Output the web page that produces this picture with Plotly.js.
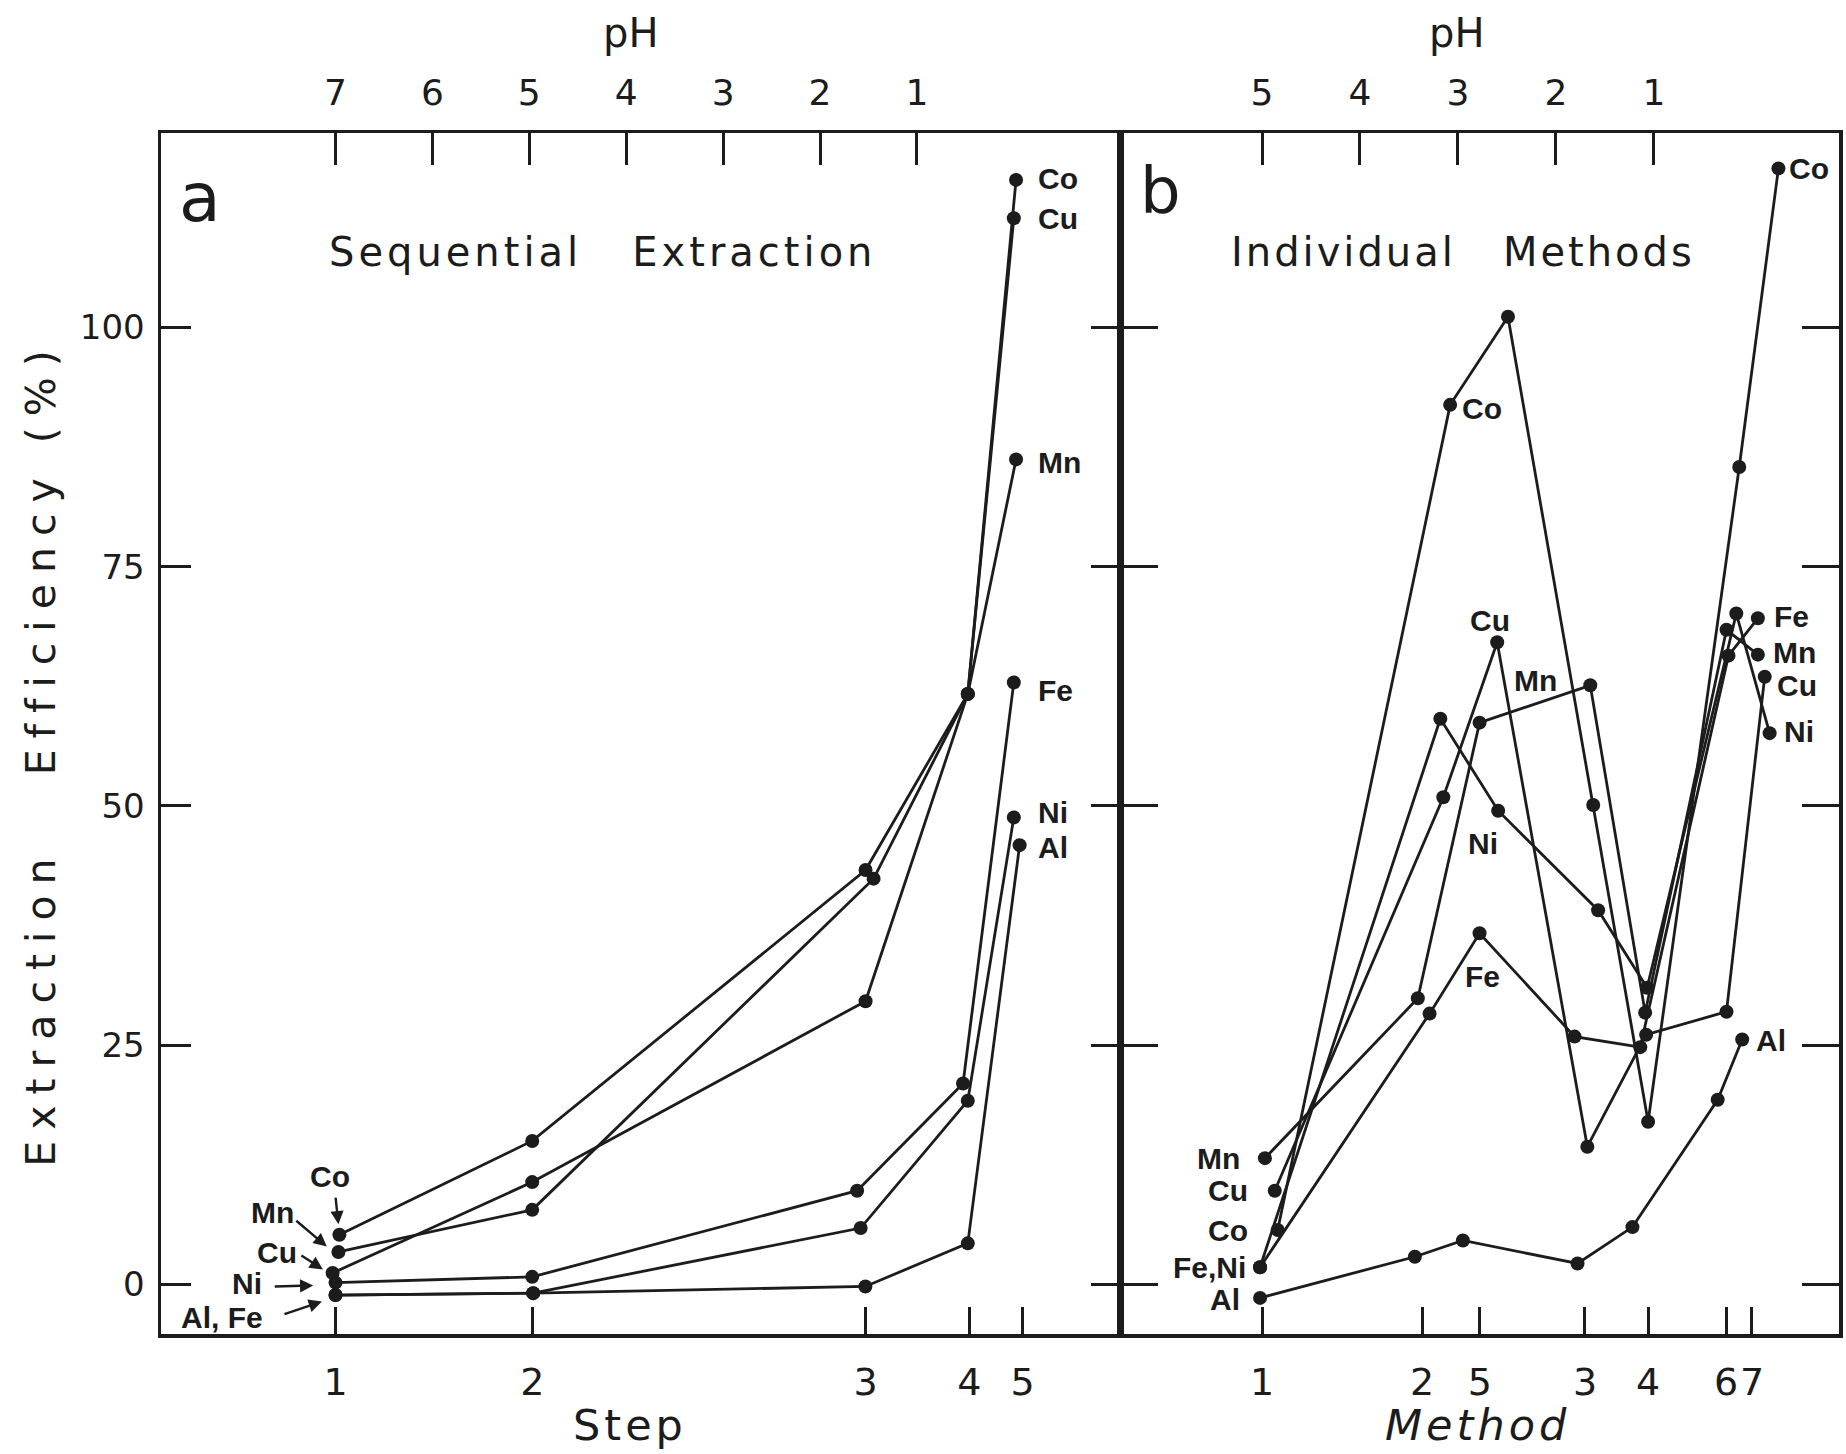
<!DOCTYPE html>
<html>
<head>
<meta charset="utf-8">
<script src="https://cdn.plot.ly/plotly-3.0.1.min.js"></script>
<style>
html,body{margin:0;padding:0;background:#fff;}
#chart{width:1846px;height:1454px;}
.annotation[data-index="2"] .annotation-text{letter-spacing:4px;}
.annotation[data-index="3"] .annotation-text{letter-spacing:4px;}
.annotation[data-index="4"] .annotation-text{letter-spacing:11px;}
.annotation[data-index="7"] .annotation-text{letter-spacing:4px;}
.annotation[data-index="8"] .annotation-text{letter-spacing:3px;}
</style>
</head>
<body>
<div id="chart"></div>
<script>
// ---------- tick definitions ----------
const pHTicksA = [7, 6, 5, 4, 3, 2, 1];
const stepTickPH = [7.0, 4.97, 1.53, 0.46, -0.09];   // position of each step on the pH scale
const stepTickText = ['1', '2', '3', '4', '5'];
const pHTicksB = [5, 4, 3, 2, 1];
const methodTickPH = [5.0, 3.367, 2.776, 1.704, 1.061, 0.265, 0.0];
const methodTickText = ['1', '2', '5', '3', '4', '6', '7'];
const effTicks = [0, 25, 50, 75, 100];

// ---------- panel a : Sequential Extraction (x = pH position of step) ----------
const aCoX = [6.96, 4.97, 1.53, 0.475, -0.023];
const aCoY = [5.2, 15.0, 43.3, 61.7, 115.4];
const aCuX = [7.03, 4.97, 1.53, 0.475, 0.0];
const aCuY = [1.2, 10.7, 29.6, 61.7, 111.4];
const aMnX = [6.97, 4.97, 1.447, 0.475, -0.023];
const aMnY = [3.4, 7.8, 42.4, 61.7, 86.2];
const aFeX = [7.0, 4.97, 1.617, 0.524, 0.0];
const aFeY = [0.2, 0.8, 9.8, 21.0, 62.9];
const aNiX = [7.0, 4.96, 1.581, 0.475, 0.0];
const aNiY = [-1.1, -0.9, 5.9, 19.2, 48.8];
const aAlX = [7.0, 4.96, 1.532, 0.475, -0.06];
const aAlY = [-1.1, -0.9, -0.2, 4.3, 45.9];

// ---------- panel b : Individual Methods (x = pH position of method) ----------
const bCoX = [4.84, 3.08, 2.49, 1.62, 1.06, 0.13, -0.27];
const bCoY = [5.7, 91.9, 101.1, 50.1, 17.0, 85.4, 116.6];
const bCuX = [4.87, 3.15, 2.60, 1.68, 1.08, 0.26, -0.13];
const bCuY = [9.8, 50.9, 67.1, 14.4, 26.1, 28.5, 63.5];
const bMnX = [4.97, 3.41, 2.78, 1.65, 1.09, 0.26, -0.06];
const bMnY = [13.2, 29.9, 58.7, 62.6, 28.4, 68.4, 65.8];
const bFeX = [5.02, 3.29, 2.78, 1.81, 1.14, 0.24, -0.06];
const bFeY = [1.8, 28.3, 36.7, 25.9, 24.8, 65.7, 69.6];
const bNiX = [5.02, 3.18, 2.59, 1.57, 1.07, 0.16, -0.18];
const bNiY = [1.8, 59.1, 49.5, 39.1, 31.0, 70.1, 57.6];
const bAlX = [5.02, 3.44, 2.95, 1.78, 1.22, 0.35, 0.10];
const bAlY = [-1.4, 2.9, 4.6, 2.2, 6.0, 19.3, 25.6];

const INK = '#1c1c1c';

function series(name, x, y, xa, ya) {
  return {
    type: 'scatter', mode: 'lines+markers', name: name,
    x: x, y: y, xaxis: xa, yaxis: ya,
    line: {color: INK, width: 2.8},
    marker: {color: INK, size: 14},
    cliponaxis: false, hoverinfo: 'skip'
  };
}

const data = [
  series('Co', aCoX, aCoY, 'x', 'y'),
  series('Cu', aCuX, aCuY, 'x', 'y'),
  series('Mn', aMnX, aMnY, 'x', 'y'),
  series('Fe', aFeX, aFeY, 'x', 'y'),
  series('Ni', aNiX, aNiY, 'x', 'y'),
  series('Al', aAlX, aAlY, 'x', 'y'),
  series('Co', bCoX, bCoY, 'x2', 'y2'),
  series('Cu', bCuX, bCuY, 'x2', 'y2'),
  series('Mn', bMnX, bMnY, 'x2', 'y2'),
  series('Fe', bFeX, bFeY, 'x2', 'y2'),
  series('Ni', bNiX, bNiY, 'x2', 'y2'),
  series('Al', bAlX, bAlY, 'x2', 'y2'),
  {type:'scatter', x:[null], y:[null], xaxis:'x3', yaxis:'y', mode:'markers', hoverinfo:'skip', showlegend:false},
  {type:'scatter', x:[null], y:[null], xaxis:'x4', yaxis:'y2', mode:'markers', hoverinfo:'skip', showlegend:false}
];

const FONT = 'DejaVu Sans, sans-serif';
const LABFONT = {family: 'Liberation Sans, Arial, sans-serif', size: 30, color: INK, weight: 'bold'};

function paperText(text, x, y, size, extra) {
  return Object.assign({
    text: text, xref: 'paper', yref: 'paper', x: x, y: y,
    xanchor: 'center', yanchor: 'middle', showarrow: false,
    font: {family: FONT, size: size, color: INK}
  }, extra || {});
}
function lab(text, xr, yr, x, y, anchor) {
  return {text: text, xref: xr, yref: yr, x: x, y: y, xanchor: anchor,
    yanchor: 'middle', showarrow: false, font: LABFONT};
}
function arrow(xr, yr, x, y, ax, ay) {
  return {text: '', xref: xr, yref: yr, x: x, y: y, ax: ax, ay: ay,
    showarrow: true, arrowhead: 2, arrowsize: 1.1, arrowwidth: 2.4,
    arrowcolor: INK, standoff: 0};
}

const annotations = [
  paperText('pH', 0.2795, 1.0833, 40),                                  // 0
  paperText('pH', 0.7718, 1.0833, 40),                                  // 1
  paperText('Step', 0.2795, -0.0758, 43),                               // 2
  paperText('Method', 0.7849, -0.0758, 43, {font:{family:FONT,size:43,color:INK,style:'italic'}}), // 3
  paperText('Extraction   Efficiency (%)', -0.0715, 0.4838, 41, {textangle: -90}), // 4
  paperText('a', 0.0232, 0.9467, 68),                                   // 5
  paperText('b', 0.5954, 0.9517, 64),                                   // 6
  paperText('Sequential   Extraction', 0.2634, 0.9009, 40),             // 7
  paperText('Individual   Methods', 0.776, 0.9009, 40),                 // 8
  // panel a, end labels
  lab('Co', 'x', 'y', -0.229, 115.5, 'left'),
  lab('Cu', 'x', 'y', -0.229, 111.4, 'left'),
  lab('Mn', 'x', 'y', -0.229, 85.9, 'left'),
  lab('Fe', 'x', 'y', -0.229, 62.1, 'left'),
  lab('Ni', 'x', 'y', -0.229, 49.3, 'left'),
  lab('Al', 'x', 'y', -0.229, 45.7, 'left'),
  // panel a, step-1 labels with arrows
  lab('Co', 'x', 'y', 7.06, 11.3, 'center'),
  lab('Mn', 'x', 'y', 7.655, 7.5, 'center'),
  lab('Cu', 'x', 'y', 7.60, 3.3, 'center'),
  lab('Ni', 'x', 'y', 7.91, 0.1, 'center'),
  lab('Al, Fe', 'x', 'y', 8.17, -3.4, 'center'),
  arrow('x', 'y', 6.97, 6.3, -3, -28),
  arrow('x', 'y', 7.09, 3.97, -32, -27),
  arrow('x', 'y', 7.13, 1.57, -23, -15),
  arrow('x', 'y', 7.23, -0.1, -40, 1),
  arrow('x', 'y', 7.14, -1.78, -39, 13),
  // panel b, method-1 labels
  lab('Mn', 'x2', 'y2', 5.204, 13.2, 'right'),
  lab('Cu', 'x2', 'y2', 5.122, 9.8, 'right'),
  lab('Co', 'x2', 'y2', 5.122, 5.6, 'right'),
  lab('Fe,Ni', 'x2', 'y2', 5.143, 1.8, 'right'),
  lab('Al', 'x2', 'y2', 5.204, -1.6, 'right'),
  // panel b, inner labels
  lab('Co', 'x2', 'y2', 2.98, 91.5, 'left'),
  lab('Cu', 'x2', 'y2', 2.673, 69.4, 'center'),
  lab('Mn', 'x2', 'y2', 2.204, 63.1, 'center'),
  lab('Ni', 'x2', 'y2', 2.745, 46.1, 'center'),
  lab('Fe', 'x2', 'y2', 2.745, 32.2, 'center'),
  // panel b, end labels
  lab('Co', 'x2', 'y2', -0.357, 116.6, 'left'),
  lab('Fe', 'x2', 'y2', -0.209, 69.8, 'left'),
  lab('Mn', 'x2', 'y2', -0.199, 66.0, 'left'),
  lab('Cu', 'x2', 'y2', -0.24, 62.6, 'left'),
  lab('Ni', 'x2', 'y2', -0.31, 57.8, 'left'),
  lab('Al', 'x2', 'y2', -0.02, 25.5, 'left')
];

const axCommon = {
  showgrid: false, zeroline: false, showline: true,
  linecolor: INK, linewidth: 3.5,
  ticks: 'inside', tickcolor: INK, tickwidth: 3,
  tickmode: 'array', fixedrange: true, tickangle: 0
};

const SPLIT = 0.5721;
const Y_RANGE = [-5.17, 120.3];

const layout = {
  width: 1846, height: 1454,
  margin: {l: 161, r: 7, t: 133, b: 120, pad: 0},
  paper_bgcolor: '#ffffff', plot_bgcolor: '#ffffff',
  showlegend: false,
  font: {family: FONT, color: INK},
  xaxis: Object.assign({}, axCommon, {
    domain: [0, SPLIT], range: [8.801, -1.106], side: 'top', anchor: 'y',
    tickvals: pHTicksA, ticktext: pHTicksA.map(String),
    ticklen: 32, tickfont: {family: FONT, size: 36, color: INK}, ticklabelstandoff: 10
  }),
  xaxis3: Object.assign({}, axCommon, {
    overlaying: 'x', anchor: 'y', side: 'bottom', range: [8.801, -1.106],
    tickvals: stepTickPH, ticktext: stepTickText,
    ticklen: 27, tickfont: {family: FONT, size: 38, color: INK}, ticklabelstandoff: 12
  }),
  xaxis2: Object.assign({}, axCommon, {
    domain: [SPLIT, 1], range: [6.439, -0.888], side: 'top', anchor: 'y2',
    tickvals: pHTicksB, ticktext: pHTicksB.map(String),
    ticklen: 32, tickfont: {family: FONT, size: 36, color: INK}, ticklabelstandoff: 10
  }),
  xaxis4: Object.assign({}, axCommon, {
    overlaying: 'x2', anchor: 'y2', side: 'bottom', range: [6.439, -0.888],
    tickvals: methodTickPH, ticktext: methodTickText,
    ticklen: 27, tickfont: {family: FONT, size: 38, color: INK}, ticklabelstandoff: 12
  }),
  yaxis: Object.assign({}, axCommon, {
    domain: [0, 1], range: Y_RANGE, anchor: 'x', side: 'left', mirror: 'ticks',
    tickvals: effTicks, ticktext: effTicks.map(String),
    ticklen: 30, tickfont: {family: FONT, size: 34, color: INK}, ticklabelstandoff: 6
  }),
  yaxis2: Object.assign({}, axCommon, {
    domain: [0, 1], range: Y_RANGE, anchor: 'x2', side: 'left', mirror: 'ticks',
    tickvals: effTicks, showticklabels: false, ticklen: 37
  }),
  annotations: annotations
};

Plotly.newPlot('chart', data, layout, {displayModeBar: false, staticPlot: true});
</script>
</body>
</html>
